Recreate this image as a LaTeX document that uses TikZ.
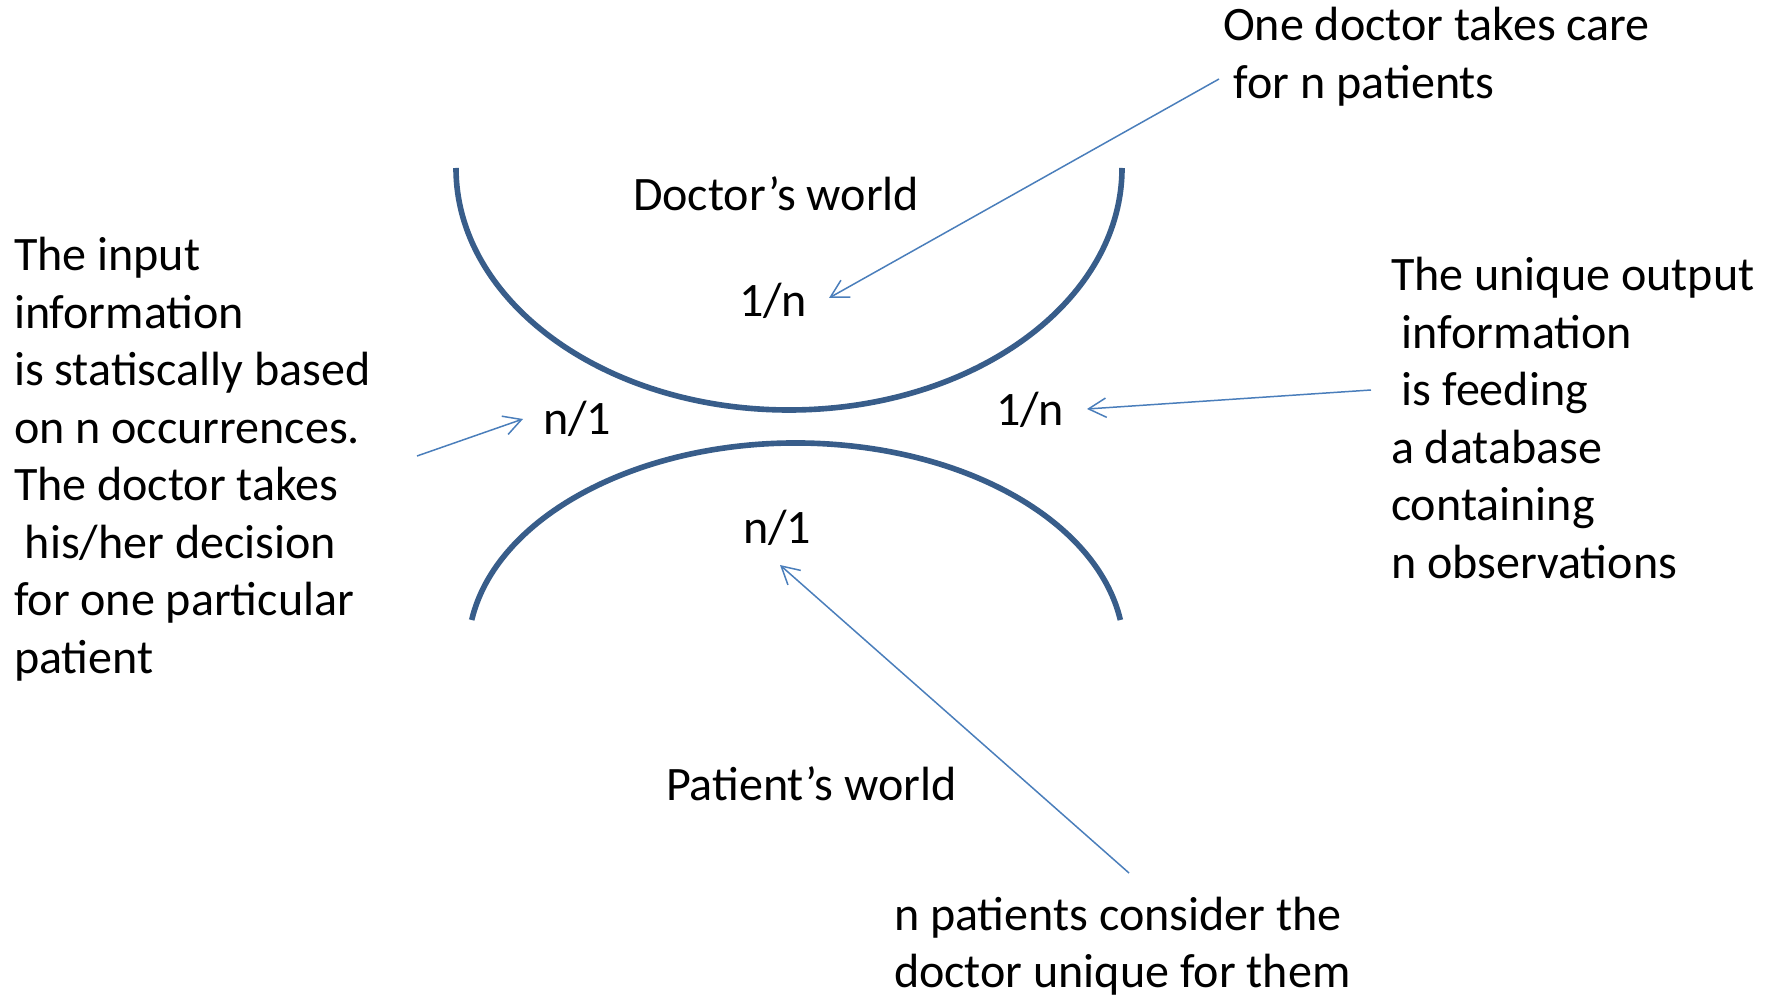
\documentclass[tikz,border=0pt]{standalone}
\usepackage{fontspec}
\setmainfont{Carlito}
\usetikzlibrary{arrows.meta}
\definecolor{arcblue}{HTML}{385D8A}
\definecolor{pointerblue}{HTML}{4A7EBB}
% left-aligned block of lines whose baseline is that of the first line
\newcommand{\textlines}[1]{\begin{tabular}[t]{@{}l@{}}#1\end{tabular}}
\newcommand{\lead}{\hspace*{0.226em}}

\begin{document}
\begin{tikzpicture}[x=0.02cm,y=-0.02cm,
  txt/.style={anchor=base west, inner sep=0pt, outer sep=0pt,
    font=\fontsize{27.35pt}{32.7pt}\selectfont},
  world/.style={draw=arcblue, line width=3.2pt},
  pointer/.style={draw=pointerblue, line width=0.85pt,
    -{Straight Barb[length=10pt,width=11pt]}}]

\useasboundingbox (0,0) rectangle (1775,996);

% the two worlds
\draw[world] (456,168) arc[start angle=180, end angle=0, x radius=333, y radius=242];
\draw[world] (471.7,620) arc[start angle=188.57, end angle=351.43, x radius=328, y radius=208];

% world names and ratios
\node[txt] (doctorworld) at (633,211) {Doctor’s world};
\node[txt] (patientworld) at (666,800) {Patient’s world};
\node[txt] (ratioTop) at (739,317) {1/n};
\node[txt] (ratioLeft) at (543,435) {n/1};
\node[txt] (ratioRight) at (996,426) {1/n};
\node[txt] (ratioBottom) at (743,543) {n/1};

% explanations
\node[txt] (careNote) at (1223,41) {\textlines{One doctor takes care\\\lead for n patients}};
\node[txt] (inputNote) at (14,271) {\textlines{The input\\information\\is statiscally based\\on n occurrences.\\The doctor takes\\\lead his/her decision\\for one particular\\patient}};
\node[txt] (outputNote) at (1391,291) {\textlines{The unique output\\\lead information\\\lead is feeding\\a database\\containing\\n observations}};
\node[txt] (uniqueNote) at (894,930) {\textlines{n patients consider the\\doctor unique for them}};

% pointers
\coordinate (careTail) at (1219,79);
\coordinate (careTip) at (829,298);
\coordinate (feedTail) at (1371,390);
\coordinate (feedTip) at (1087,409);
\coordinate (inTail) at (417,456);
\coordinate (inTip) at (523,419);
\coordinate (uniqueTail) at (1129,873);
\coordinate (uniqueTip) at (780,565);

\draw[pointer] (careTail) -- (careTip);
\draw[pointer] (feedTail) -- (feedTip);
\draw[pointer] (inTail) -- (inTip);
\draw[pointer] (uniqueTail) -- (uniqueTip);
\end{tikzpicture}
\end{document}
